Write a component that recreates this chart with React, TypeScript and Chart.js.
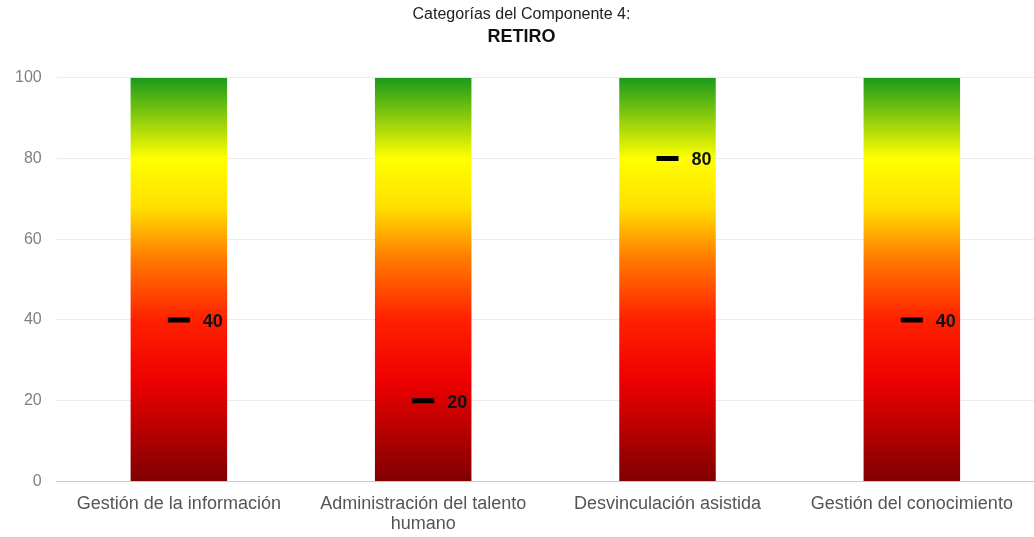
import React, { useEffect, useRef } from "react";
import { Chart, registerables } from "chart.js";

Chart.register(...registerables);

const categories: (string | string[])[] = [
  "Gestión de la información",
  ["Administración del talento", "humano"],
  "Desvinculación asistida",
  "Gestión del conocimiento",
];
const scaleMax = [100, 100, 100, 100];
const scores = [40, 20, 80, 40];
const yTicks = [0, 20, 40, 60, 80, 100];
const titleText = "Categorías del Componente 4:";
const subtitleText = "RETIRO";

const FONT = "'Liberation Sans', Arial, sans-serif";

const valueLabels = {
  id: "valueLabels",
  afterDatasetsDraw(chart: any) {
    const meta = chart.getDatasetMeta(1);
    const ctx = chart.ctx;
    ctx.save();
    ctx.font = `bold 18px ${FONT}`;
    ctx.fillStyle = "#111";
    ctx.textAlign = "left";
    ctx.textBaseline = "middle";
    meta.data.forEach((pt: any, i: number) => {
      ctx.fillText(String(scores[i]), pt.x + 24, pt.y + 2);
    });
    ctx.restore();
  },
};

export default function App() {
  const ref = useRef<HTMLCanvasElement>(null);
  useEffect(() => {
    if (!ref.current) return;
    const chart = new Chart(ref.current, {
      type: "bar",
      data: {
        labels: categories,
        datasets: [
          {
            type: "bar",
            data: scaleMax,
            barPercentage: 0.395,
            categoryPercentage: 1,
            backgroundColor: (c: any) => {
              const area = c.chart.chartArea;
              if (!area) return "#f00";
              const g = c.chart.ctx.createLinearGradient(0, area.bottom, 0, area.top);
              g.addColorStop(0, "#800000");
              g.addColorStop(0.25, "#ee0000");
              g.addColorStop(0.4, "#ff2000");
              g.addColorStop(0.55, "#ff7a00");
              g.addColorStop(0.68, "#ffe000");
              g.addColorStop(0.8, "#ffff00");
              g.addColorStop(1, "#1a9a1a");
              return g;
            },
            borderWidth: 0,
            order: 2,
          },
          {
            type: "line",
            data: scores,
            showLine: false,
            pointStyle: "line",
            pointRadius: 11,
            pointHoverRadius: 11,
            pointBorderWidth: 5,
            borderColor: "#000",
            backgroundColor: "#000",
            order: 1,
          } as any,
        ],
      },
      options: {
        animation: false,
        responsive: true,
        maintainAspectRatio: false,
        layout: { autoPadding: false, padding: { left: 0, right: -9, top: 0, bottom: -2 } },
        plugins: {
          legend: { display: false },
          tooltip: { enabled: false },
          title: {
            display: true,
            text: titleText,
            color: "#222",
            font: { family: FONT, size: 16, weight: "normal" },
            padding: { top: 5, bottom: 0 },
          },
          subtitle: {
            display: true,
            text: subtitleText,
            color: "#111",
            font: { family: FONT, size: 18, weight: "bold" },
            padding: { top: 2, bottom: 30 },
          },
        },
        scales: {
          x: {
            grid: { display: false },
            border: { display: true, color: "#c8c8c8" },
            ticks: {
              color: "#555",
              font: { family: FONT, size: 18, lineHeight: 1.1 },
              maxRotation: 0,
              autoSkip: false,
              padding: 5,
            },
          },
          y: {
            min: 0,
            max: 100,
            afterBuildTicks: (axis: any) => {
              axis.ticks = yTicks.map((v) => ({ value: v }));
            },
            grid: { color: "#ececec", drawTicks: false },
            border: { display: false },
            ticks: {
              color: "#808080",
              font: { family: FONT, size: 16 },
              padding: 15,
            },
          },
        },
      },
      plugins: [valueLabels],
    });
    return () => chart.destroy();
  }, []);
  return (
    <div style={{ position: "fixed", left: 0, top: 0, width: 1034, height: 537 }}>
      <canvas ref={ref} />
    </div>
  );
}
